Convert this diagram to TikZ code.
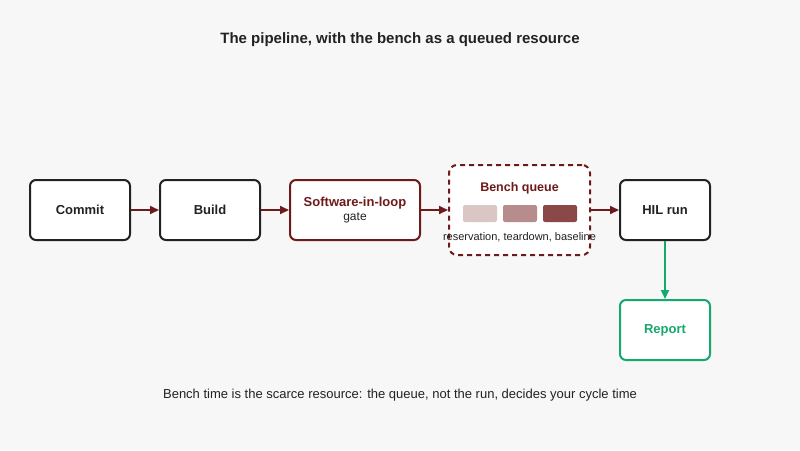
\documentclass[tikz,border=0pt]{standalone}
\usepackage{fontspec}
\setmainfont{Liberation Sans}
\usetikzlibrary{arrows.meta}
\definecolor{dred}{HTML}{6E1A1A}
\definecolor{grn}{HTML}{16A86C}
\definecolor{ink}{HTML}{222222}
\definecolor{bg}{HTML}{F7F7F7}
\begin{document}
\begin{tikzpicture}[x=1pt,y=-1pt,
 box/.style={draw=ink,line width=2pt,fill=white,rounded corners=6pt,minimum height=60pt,align=center,font=\bfseries\fontsize{13}{15}\selectfont,text=ink},
 arr/.style={-{Triangle[length=9pt,width=8pt]},line width=2pt,draw=dred},
 chip/.style={rounded corners=2pt,minimum width=34pt,minimum height=17pt,inner sep=0pt}]
\fill[bg] (0,0) rectangle (800,450);
\useasboundingbox (0,0) rectangle (800,450);
\node[font=\bfseries\fontsize{15}{18}\selectfont,text=ink] (title) at (400,40) {The pipeline, with the bench as a queued resource};
\node[box,minimum width=100pt] (commit) at (80,210) {Commit};
\node[box,minimum width=100pt] (build) at (210,210) {Build};
\node[box,draw=dred,minimum width=130pt] (sil) at (355,210) {\textcolor{dred}{Software-in-loop}\\[-1pt]{\normalfont\fontsize{12}{14}\selectfont\color{ink}gate}};
\node[draw=dred,line width=2pt,dashed,dash pattern=on 5pt off 4pt,fill=white,rounded corners=8pt,minimum width=141pt,minimum height=90pt] (queue) at (519.5,210) {};
\node[font=\bfseries\fontsize{12.5}{15}\selectfont,text=dred] (qt) at (519.5,188) {Bench queue};
\node[chip,fill=dred!25] (c1) at (480,213.5) {};
\node[chip,fill=dred!50] (c2) at (520,213.5) {};
\node[chip,fill=dred!80] (c3) at (560,213.5) {};
\node[font=\fontsize{11}{13}\selectfont,text=ink] (ql) at (519.5,237) {reservation, teardown, baseline};
\node[box,minimum width=90pt] (hil) at (665,210) {HIL run};
\node[box,draw=grn,text=grn,minimum width=90pt] (rep) at (665,330) {Report};
\draw[arr] (commit) -- (build);
\draw[arr] (build) -- (sil);
\draw[arr] (sil) -- (queue);
\draw[arr] (queue) -- (hil);
\draw[arr,draw=grn,fill=grn] (hil) -- (rep);
\node[font=\fontsize{13}{15}\selectfont,text=ink] (cap) at (400,395) {Bench time is the scarce resource: the queue, not the run, decides your cycle time};
\end{tikzpicture}
\end{document}
